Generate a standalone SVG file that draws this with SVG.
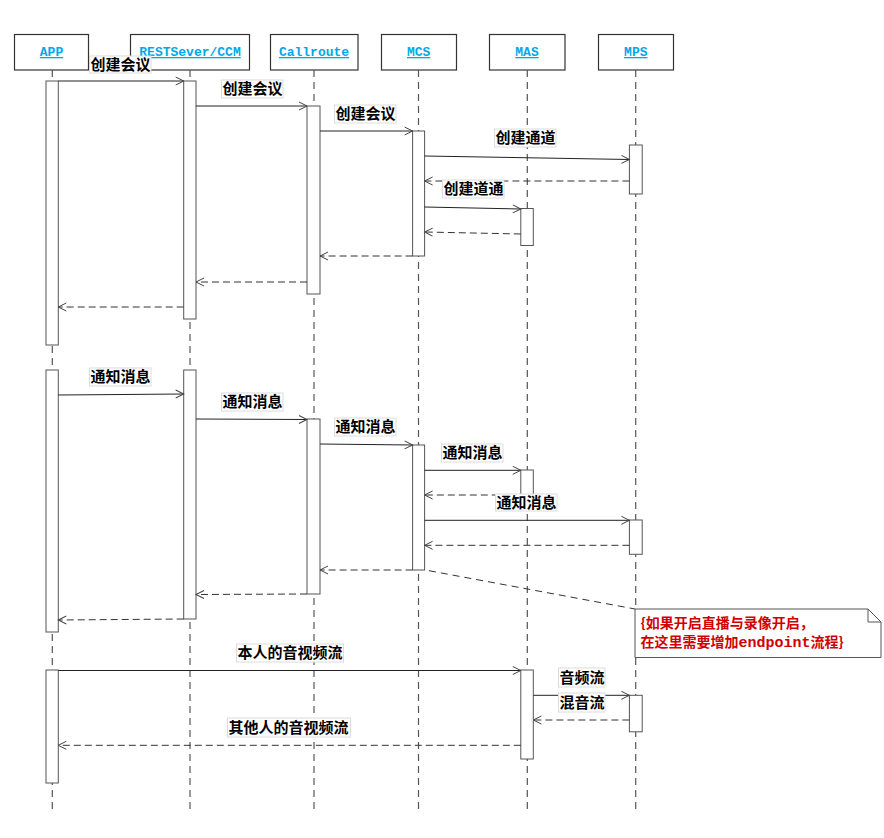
<svg xmlns="http://www.w3.org/2000/svg" width="884" height="838" viewBox="0 0 884 838">
<defs>
<marker id="arr" markerUnits="userSpaceOnUse" markerWidth="12" markerHeight="12" refX="9" refY="5" orient="auto">
<path d="M1,1 L9,5 L1,9" fill="none" stroke="#444" stroke-width="1"/>
</marker>
<style>
.hdr{fill:#fff;stroke:#333;stroke-width:1.2}
.htx{font-family:"Liberation Mono",monospace;font-weight:bold;font-size:13px;fill:#00a8e8;text-anchor:middle;text-decoration:underline}
.life{stroke:#555;stroke-width:1.2;stroke-dasharray:7,5;fill:none}
.bar{fill:#fff;stroke:#555;stroke-width:1}
.msg{stroke:#222;stroke-width:1;fill:none;marker-end:url(#arr)}
.ret{stroke:#333;stroke-width:1;fill:none;stroke-dasharray:7,4;marker-end:url(#arr)}
.lb{fill:#fff;stroke:#dcdcdc;stroke-width:1}
.lt{font-family:"Noto Sans CJK SC","Noto Sans",sans-serif;font-weight:bold;font-size:15px;fill:#000}
.note{fill:#fff;stroke:#555;stroke-width:1}
.nt{font-family:"Noto Sans CJK SC","Noto Sans",sans-serif;font-weight:bold;font-size:14px;fill:#d00000}
.ntm{font-family:"Liberation Mono",monospace;font-weight:bold;font-size:15px}
</style>
</defs>
<rect width="884" height="838" fill="#fff"/>

<g id="p-app">
<rect class="hdr" x="14.5" y="34.5" width="74" height="35.5"/>
<text class="htx" x="51.5" y="56">APP</text>
<line class="life" x1="52.3" y1="70" x2="52.3" y2="810"/>
<rect class="bar" x="46" y="81" width="12.3" height="264"/>
<rect class="bar" x="46" y="370" width="12.3" height="262"/>
<rect class="bar" x="46" y="670" width="12.3" height="113"/>
</g>
<g id="p-rest">
<rect class="hdr" x="130.5" y="34.5" width="119" height="35.5"/>
<text class="htx" x="190" y="56">RESTSever/CCM</text>
<line class="life" x1="190" y1="70" x2="190" y2="810"/>
<rect class="bar" x="183.7" y="81" width="12.3" height="238"/>
<rect class="bar" x="183.7" y="370" width="12.3" height="249"/>
</g>
<g id="p-callroute">
<rect class="hdr" x="270.5" y="34.5" width="87.5" height="35.5"/>
<text class="htx" x="314" y="56">Callroute</text>
<line class="life" x1="314" y1="70" x2="314" y2="810"/>
<rect class="bar" x="307" y="106" width="13" height="188"/>
<rect class="bar" x="307" y="419" width="13" height="175"/>
</g>
<g id="p-mcs">
<rect class="hdr" x="381.5" y="34.5" width="75" height="35.5"/>
<text class="htx" x="418.7" y="56">MCS</text>
<line class="life" x1="418.5" y1="70" x2="418.5" y2="810"/>
<rect class="bar" x="412.6" y="131" width="12" height="125"/>
<rect class="bar" x="412.6" y="445" width="12" height="125"/>
</g>
<g id="p-mas">
<rect class="hdr" x="489.5" y="34.5" width="75.5" height="35.5"/>
<text class="htx" x="527" y="56">MAS</text>
<line class="life" x1="527.3" y1="70" x2="527.3" y2="810"/>
<rect class="bar" x="520.8" y="208.5" width="12.5" height="37"/>
<rect class="bar" x="520.8" y="470" width="12.5" height="24.5"/>
<rect class="bar" x="520.8" y="670" width="12.5" height="89"/>
</g>
<g id="p-mps">
<rect class="hdr" x="598.5" y="34.5" width="75" height="35.5"/>
<text class="htx" x="635.8" y="56">MPS</text>
<line class="life" x1="635.7" y1="70" x2="635.7" y2="810"/>
<rect class="bar" x="629.4" y="145" width="12.8" height="49"/>
<rect class="bar" x="629.4" y="520" width="12.8" height="34.3"/>
<rect class="bar" x="629.4" y="695.3" width="12.8" height="36.5"/>
</g>

<g id="connectors">
<line class="msg" x1="58.3" y1="81" x2="183.7" y2="81"/>
<line class="msg" x1="196" y1="106" x2="307" y2="106"/>
<line class="msg" x1="320" y1="131" x2="412.6" y2="131"/>
<line class="msg" x1="424.6" y1="156" x2="629.4" y2="159.5"/>
<line class="ret" x1="629.4" y1="181" x2="424.6" y2="181"/>
<line class="msg" x1="424.6" y1="207" x2="520.8" y2="209"/>
<line class="ret" x1="520.8" y1="234" x2="424.6" y2="232"/>
<line class="ret" x1="412.6" y1="256" x2="320" y2="256"/>
<line class="ret" x1="307" y1="282" x2="196" y2="282"/>
<line class="ret" x1="183.7" y1="307" x2="58.3" y2="307"/>

<line class="msg" x1="58.3" y1="395" x2="183.7" y2="394"/>
<line class="msg" x1="196" y1="419" x2="307" y2="419.5"/>
<line class="msg" x1="320" y1="444" x2="412.6" y2="445"/>
<line class="msg" x1="424.6" y1="470.3" x2="520.8" y2="470.3"/>
<line class="ret" x1="520.8" y1="495" x2="424.6" y2="495"/>
<line class="msg" x1="424.6" y1="520.3" x2="629.4" y2="520.3"/>
<line class="ret" x1="629.4" y1="545.3" x2="424.6" y2="545.3"/>
<line class="ret" x1="412.6" y1="570" x2="320" y2="570"/>
<line class="ret" x1="307" y1="594" x2="196" y2="594.5"/>
<line class="ret" x1="183.7" y1="619" x2="58.3" y2="620"/>

<line class="msg" x1="58.3" y1="670.5" x2="520.8" y2="670.5"/>
<line class="msg" x1="533.3" y1="695.3" x2="629.4" y2="695.3"/>
<line class="ret" x1="629.4" y1="720" x2="533.3" y2="720"/>
<line class="ret" x1="520.8" y1="745.3" x2="58.3" y2="745.3"/>

<line x1="429" y1="570.7" x2="635" y2="609" stroke="#333" stroke-width="1" stroke-dasharray="7,5"/>
</g>

<g id="labels">
<rect class="lb" x="89.5" y="56" width="61.5" height="17"/><text class="lt" x="90.5" y="69.5">创建会议</text>
<rect class="lb" x="221.5" y="80" width="61.5" height="18"/><text class="lt" x="222.5" y="94">创建会议</text>
<rect class="lb" x="334.5" y="105" width="61.5" height="18"/><text class="lt" x="335.5" y="119">创建会议</text>
<rect class="lb" x="494.5" y="129" width="61.5" height="18"/><text class="lt" x="495.5" y="143">创建通道</text>
<rect class="lb" x="442.5" y="180" width="61.5" height="18"/><text class="lt" x="443.5" y="194">创建道通</text>

<rect class="lb" x="89.5" y="368" width="61.5" height="18"/><text class="lt" x="90.5" y="382">通知消息</text>
<rect class="lb" x="221.5" y="393" width="61.5" height="18"/><text class="lt" x="222.5" y="407">通知消息</text>
<rect class="lb" x="334.5" y="418" width="61.5" height="18"/><text class="lt" x="335.5" y="432">通知消息</text>
<rect class="lb" x="441.5" y="444" width="61.5" height="18"/><text class="lt" x="442.5" y="458">通知消息</text>
<rect class="lb" x="495.5" y="494" width="61.5" height="17"/><text class="lt" x="496.5" y="508">通知消息</text>

<rect class="lb" x="236.5" y="644" width="107" height="18"/><text class="lt" x="237.5" y="658">本人的音视频流</text>
<rect class="lb" x="558.5" y="668" width="46.5" height="19"/><text class="lt" x="559.5" y="683">音频流</text>
<rect class="lb" x="558.5" y="693" width="46.5" height="19"/><text class="lt" x="559.5" y="708">混音流</text>
<rect class="lb" x="227.5" y="718" width="123" height="19"/><text class="lt" x="228.5" y="733">其他人的音视频流</text>
</g>

<g id="note">
<path class="note" d="M635,609 L868,609 L881,622 L881,657.5 L635,657.5 Z"/>
<path d="M868,609 L868,622 L881,622" fill="none" stroke="#555" stroke-width="1"/>
<text class="nt" x="640.5" y="628">{如果开启直播与录像开启，</text>
<text class="nt" x="640.5" y="647">在这里需要增加<tspan class="ntm">endpoint</tspan>流程}</text>
</g>
</svg>
